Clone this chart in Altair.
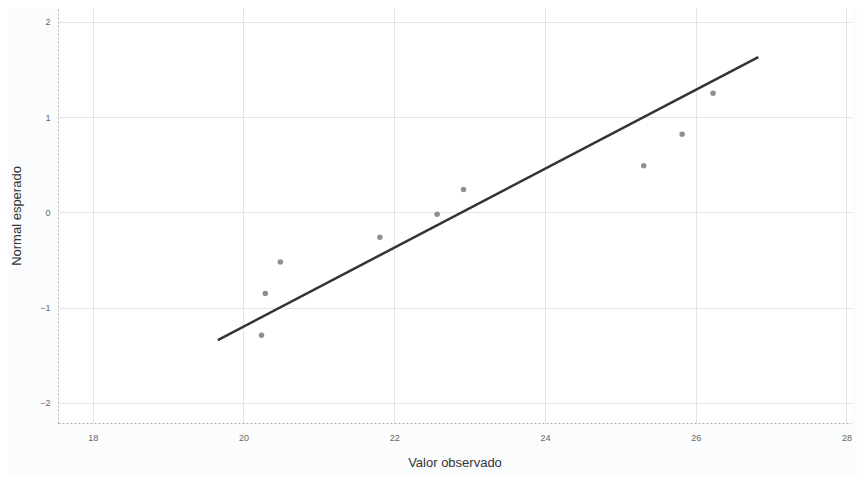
import altair as alt
import pandas as pd

observed = [20.24, 20.29, 20.49, 21.81, 22.57, 22.92, 25.31, 25.82, 26.23]
expected = [-1.29, -0.85, -0.52, -0.26, -0.02, 0.24, 0.49, 0.82, 1.25]

# Reference line endpoints
line_x = [19.66, 26.83]
line_y = [-1.34, 1.63]

x_ticks = [18, 20, 22, 24, 26, 28]
y_ticks = [-2, -1, 0, 1, 2]

pts = pd.DataFrame({"obs": observed, "exp": expected})
ln = pd.DataFrame({"obs": line_x, "exp": line_y})

xscale = alt.Scale(domain=[17.54, 28.06], nice=False, zero=False)
yscale = alt.Scale(domain=[-2.21, 2.145], nice=False, zero=False)

xaxis = alt.Axis(values=x_ticks, format="d", title="Valor observado", grid=True,
                 gridColor="#e4e4e4", gridWidth=1, ticks=False,
                 domainColor="#b0b0b0", domainDash=[2, 2],
                 labelFontSize=9, labelColor="#666666", labelPadding=10,
                 titleFontSize=13, titleFontWeight="normal", titleColor="#333333",
                 titlePadding=14, labelFont="Liberation Sans", titleFont="Liberation Sans")
yaxis = alt.Axis(values=y_ticks, format="d", title="Normal esperado", grid=True,
                 gridColor="#e4e4e4", gridWidth=1, ticks=False,
                 domainColor="#b0b0b0", domainDash=[2, 2],
                 labelFontSize=9, labelColor="#666666", labelPadding=8,
                 titleFontSize=13, titleFontWeight="normal", titleColor="#333333",
                 titlePadding=16, labelFont="Liberation Sans", titleFont="Liberation Sans")

points = alt.Chart(pts).mark_circle(size=30, color="#8f8f8f", opacity=1).encode(
    x=alt.X("obs:Q", scale=xscale, axis=xaxis),
    y=alt.Y("exp:Q", scale=yscale, axis=yaxis),
)

line = alt.Chart(ln).mark_line(color="#333333", strokeWidth=2.5).encode(
    x=alt.X("obs:Q", scale=xscale),
    y=alt.Y("exp:Q", scale=yscale),
)

chart = alt.layer(line, points).properties(
    width=793, height=415,
    autosize=alt.AutoSizeParams(type="none"),
    padding={"left": 50, "top": 0, "right": 6, "bottom": 54},
    background="#fafcfd",
).configure_view(stroke=None, fill="#ffffff")

chart.save("out.html", embed_options={"renderer": "svg", "actions": False})
